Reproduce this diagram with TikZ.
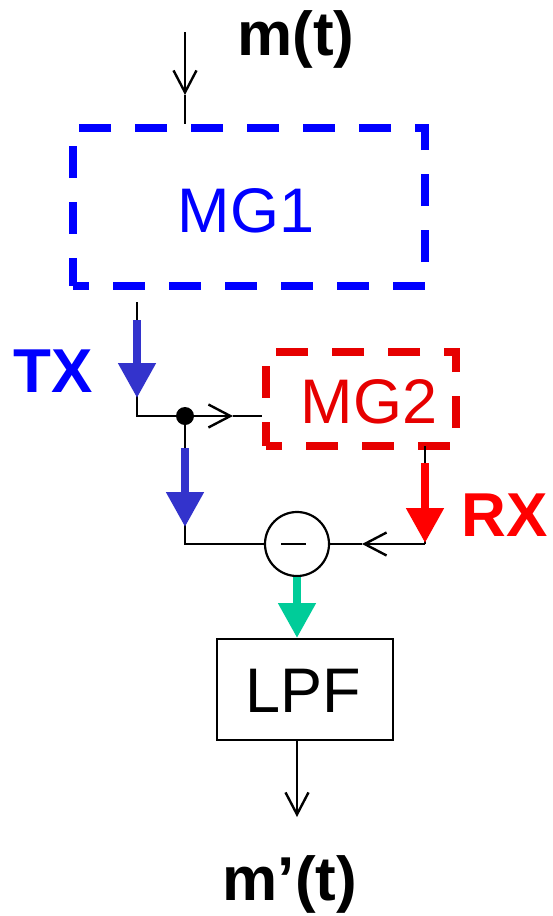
\documentclass[tikz,border=0pt]{standalone}
\usepackage{fontspec}
\setmainfont{Liberation Sans}
\usetikzlibrary{arrows.meta}
\definecolor{mgblue}{RGB}{0,0,255}
\definecolor{mgred}{RGB}{230,0,0}
\definecolor{txblue}{RGB}{51,51,204}
\definecolor{rxred}{RGB}{255,0,0}
\definecolor{outgreen}{RGB}{0,204,153}
\begin{document}
\begin{tikzpicture}[x=1pt,y=-1pt,
  big/.style={font=\fontsize{63}{72}\selectfont, inner sep=0pt},
  bigbold/.style={font=\bfseries\fontsize{62}{72}\selectfont, inner sep=0pt},
  dashbox/.style={draw, line width=7.5pt, dash pattern=on 32pt off 24pt, dash phase=16pt, inner sep=0pt},
  wire/.style={draw=black, line width=2.2pt},
  openhead/.style={wire, -{Straight Barb[length=22pt,width=23pt,line width=2.4pt]}},
  fatarrow/.style={line width=8pt, -{Triangle[length=35pt,width=36pt]}},
]
\useasboundingbox (0,0) rectangle (553,916);

% blocks
\node[dashbox, draw=mgblue, minimum width=352pt, minimum height=158pt] (mg1) at (249,207) {};
\node[big, text=mgblue, anchor=base] (mg1t) at (246,232) {MG1};
\node[dashbox, draw=mgred, minimum width=190pt, minimum height=94pt] (mg2) at (361,399) {};
\node[big, text=mgred, anchor=base] (mg2t) at (369,423) {MG2};
\node[draw, line width=2pt, minimum width=176pt, minimum height=101pt, inner sep=0pt] (lpf) at (305,689.5) {};
\node[big, anchor=base] (lpft) at (303.5,712) {LPF};
\node[draw, circle, line width=2.2pt, minimum size=64pt, inner sep=0pt] (sum) at (297,544) {};
\node[circle, fill=black, inner sep=0pt, minimum size=18pt] (dot) at (185,416) {};

% labels
\node[bigbold, anchor=base] (mt) at (296,55) {m(t)};
\node[bigbold, anchor=base] (mpt) at (290,900) {m’(t)};
\node[bigbold, text=mgblue, anchor=base] (tx) at (53,392) {TX};
\node[bigbold, text=rxred, anchor=base] (rx) at (505,536) {RX};

% coordinates
\coordinate (in0) at (185,32);
\coordinate (in1) at (185,95);
\coordinate (tx0) at (137,302);
\coordinate (tx1) at (137,320);
\coordinate (tx2) at (137,398);
\coordinate (txc) at (137,416);
\coordinate (a1) at (233,416);
\coordinate (b0) at (185,448);
\coordinate (b1) at (185,527);
\coordinate (bc) at (185,544);
\coordinate (rx0) at (425,446);
\coordinate (rx1) at (425,463);
\coordinate (rx2) at (425,543);
\coordinate (rxc) at (425,544);
\coordinate (a2) at (362,544);
\coordinate (out1) at (297,817);

% input
\draw[openhead] (in0) -- (in1);
\draw[wire] (in1) -- (mg1.north -| in1);

% TX path
\draw[wire] (tx0) -- (txc) -- (dot.center);
\draw[fatarrow, txblue] (tx1) -- (tx2);
\draw[openhead] (dot.center) -- (a1);
\draw[wire] (a1) -- (dot -| mg2.west);
\draw[wire] (dot.center) -- (bc) -- (sum.west);
\draw[fatarrow, txblue] (b0) -- (b1);

% RX path
\draw[wire] (rx0) -- (rxc);
\draw[openhead] (rxc) -- (a2);
\draw[wire] (a2) -- (sum.east);
\draw[fatarrow, rxred] (rx1) -- (rx2);

% minus sign
\draw[wire] ([xshift=-16pt]sum.center) -- ([xshift=9pt]sum.center);

% to LPF and output
\draw[fatarrow, outgreen] (sum.south) -- (lpf.north -| sum.south);
\draw[openhead] (lpf.south -| out1) -- (out1);
\end{tikzpicture}
\end{document}
